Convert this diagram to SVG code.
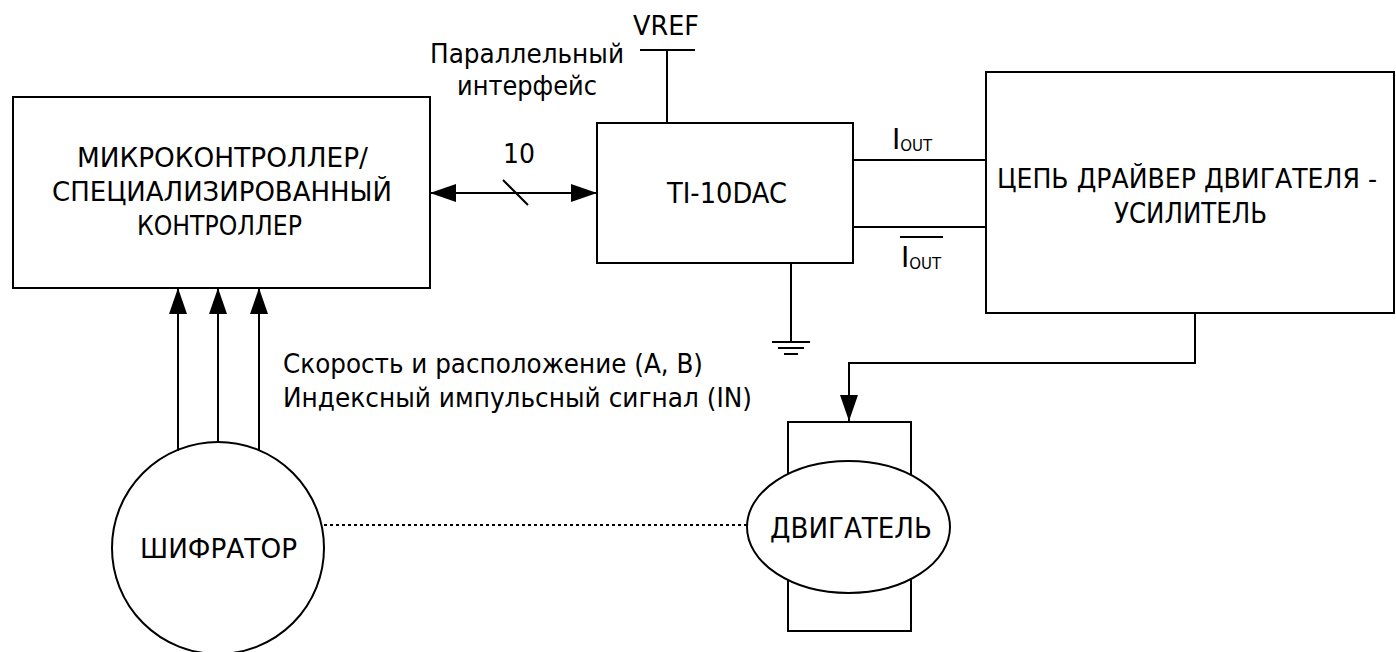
<svg xmlns="http://www.w3.org/2000/svg" width="1396" height="652" viewBox="0 0 1396 652">
<style>
text{font-family:"DejaVu Sans","Noto Sans",sans-serif;fill:#000;font-size:26px}
.b{font-size:28px}
.s{fill:none;stroke:#000;stroke-width:2}
.d{fill:none;stroke:#000;stroke-width:2;stroke-dasharray:3 3}
</style>
<defs>
<marker id="a" markerUnits="userSpaceOnUse" markerWidth="26" markerHeight="18" refX="26" refY="9" orient="auto-start-reverse" viewBox="0 0 26 18"><path d="M0,0 L26,9 L0,18 z" fill="#000"/></marker>
</defs>
<rect width="1396" height="652" fill="#fff"/>
<g id="controller">
<rect class="s" x="13" y="97" width="417" height="191"/>
<text x="77" y="167" textLength="291" lengthAdjust="spacingAndGlyphs">МИКРОКОНТРОЛЛЕР/</text>
<text x="52" y="201" textLength="340" lengthAdjust="spacingAndGlyphs">СПЕЦИАЛИЗИРОВАННЫЙ</text>
<text x="137" y="235" textLength="165" lengthAdjust="spacingAndGlyphs">КОНТРОЛЛЕР</text>
</g>
<g id="dac">
<rect class="s" x="597" y="123" width="256" height="140"/>
<text class="b" x="667" y="203" textLength="120" lengthAdjust="spacingAndGlyphs">TI-10DAC</text>
</g>
<g id="driver">
<rect class="s" x="986" y="72" width="408" height="241"/>
<text x="997" y="188" font-size="25" textLength="380" lengthAdjust="spacingAndGlyphs">ЦЕПЬ ДРАЙВЕР ДВИГАТЕЛЯ -</text>
<text class="b" x="1114" y="223" textLength="153" lengthAdjust="spacingAndGlyphs">УСИЛИТЕЛЬ</text>
</g>
<g id="motor">
<rect class="s" x="788" y="422" width="123" height="209"/>
<ellipse cx="848.5" cy="527" rx="101.5" ry="66" fill="#fff" stroke="#000" stroke-width="2"/>
<text class="b" x="770" y="538" textLength="162" lengthAdjust="spacingAndGlyphs">ДВИГАТЕЛЬ</text>
</g>
<g id="encoder">
<circle cx="218" cy="548" r="106" fill="#fff" stroke="#000" stroke-width="2"/>
<text x="140" y="558" textLength="157" lengthAdjust="spacingAndGlyphs">ШИФРАТОР</text>
</g>
<g id="vref">
<line class="s" x1="640" y1="50" x2="695" y2="50"/>
<text x="633" y="35" textLength="66" lengthAdjust="spacingAndGlyphs">VREF</text>
</g>
<g id="ground">
<line class="s" x1="772" y1="342" x2="810" y2="342"/>
<line class="s" x1="778" y1="348" x2="804" y2="348"/>
<line class="s" x1="784" y1="354" x2="798" y2="354"/>
</g>
<g id="labels">
<text x="430" y="63" textLength="194" lengthAdjust="spacingAndGlyphs">Параллельный</text>
<text x="457" y="95" textLength="140" lengthAdjust="spacingAndGlyphs">интерфейс</text>
<text x="503" y="163" textLength="32" lengthAdjust="spacingAndGlyphs">10</text>
<text class="b" x="892" y="149">I<tspan font-size="15" dy="2">OUT</tspan></text>
<text class="b" x="901" y="267">I<tspan font-size="15" dy="2">OUT</tspan></text>
<line class="s" x1="900" y1="237" x2="943" y2="237"/>
<text x="283" y="373" textLength="420" lengthAdjust="spacingAndGlyphs">Скорость и расположение (A, B)</text>
<text x="283" y="407" textLength="469" lengthAdjust="spacingAndGlyphs">Индексный импульсный сигнал (IN)</text>
</g>
<g id="connectors">
<line class="s" x1="667" y1="50" x2="667" y2="123"/>
<line class="s" x1="430" y1="193" x2="597" y2="193" marker-start="url(#a)" marker-end="url(#a)"/>
<line class="s" x1="503" y1="180" x2="528" y2="205"/>
<line class="s" x1="853" y1="160" x2="986" y2="160"/>
<line class="s" x1="853" y1="227" x2="986" y2="227"/>
<line class="s" x1="791" y1="263" x2="791" y2="342"/>
<polyline class="s" points="1195,313 1195,363 849,363 849,421" marker-end="url(#a)"/>
<line class="s" x1="178" y1="451" x2="178" y2="288" marker-end="url(#a)"/>
<line class="s" x1="218" y1="443" x2="218" y2="288" marker-end="url(#a)"/>
<line class="s" x1="259" y1="451" x2="259" y2="288" marker-end="url(#a)"/>
<line class="d" x1="324" y1="525" x2="747" y2="525"/>
</g>
</svg>
